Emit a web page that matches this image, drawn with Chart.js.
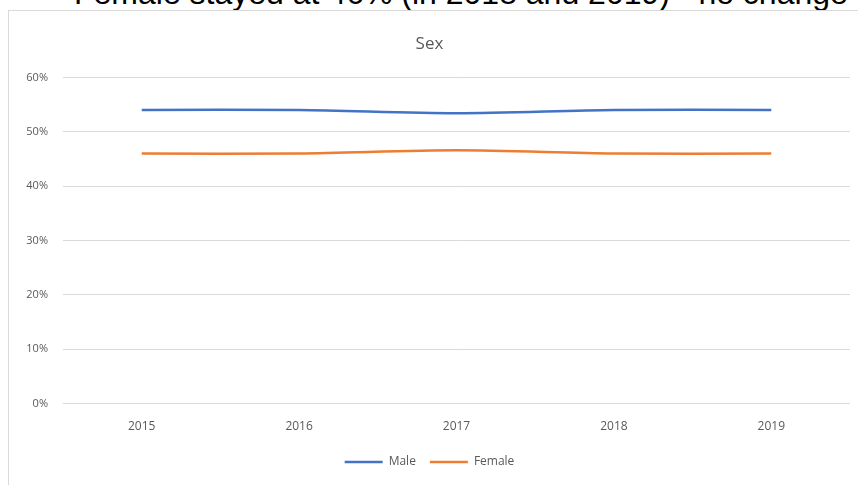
<!DOCTYPE html>
<html>
<head>
<meta charset="utf-8">
<script src="https://cdn.jsdelivr.net/npm/chart.js@4"></script>
<style>
    html, body { margin: 0; padding: 0; background: #fff; overflow: hidden; }
    body { width: 858px; height: 485px; position: relative; }
    .caption {
        position: absolute; left: 74px; top: -23px;
        font: 32px "Liberation Sans", Arial, sans-serif; line-height: 1;
        color: #000; white-space: nowrap;
    }
    .frame {
        position: absolute; left: 8px; top: 10px; width: 860px; height: 490px;
        border-left: 1px solid #d9d9d9; border-top: 1px solid #d9d9d9;
        background: #fff;
    }
    .chart_ctnr { position: absolute; left: 9px; top: 11px; width: 849px; height: 474px; }
</style>
</head>
<body>
<div class="caption">Female stayed at 46% (in 2018 and 2019) - no change</div>
<div class="frame"></div>
<div class="chart_ctnr"><canvas id="chart"></canvas></div>
<script>
const years = ['2015', '2016', '2017', '2018', '2019'];
const male = [54, 54, 53.4, 54, 54];
const female = [46, 46, 46.6, 46, 46];
const yTicks = [0, 10, 20, 30, 40, 50, 60];

const ctx = document.getElementById('chart');

var chart = new Chart(ctx, {
    type: 'line',
    data: {
        labels: years,
        datasets: [{
            label: 'Male',
            data: male,
            borderColor: '#4472C4',
            backgroundColor: '#4472C4',
            borderWidth: 2.5,
            pointRadius: 0,
            tension: 0.3
        }, {
            label: 'Female',
            data: female,
            borderColor: '#ED7D31',
            backgroundColor: '#ED7D31',
            borderWidth: 2.5,
            pointRadius: 0,
            tension: 0.3
        }]
    },
    options: {
        responsive: true,
        maintainAspectRatio: false,
        animation: false,
        layout: {
            padding: { left: 0, right: 8, top: 0, bottom: 7 }
        },
        plugins: {
            tooltip: { enabled: false },
            title: {
                display: true,
                text: 'Sex',
                color: '#595959',
                font: { size: 17, family: 'Open Sans, sans-serif', weight: 'normal' },
                padding: { top: 23, bottom: 23 }
            },
            legend: {
                display: true,
                position: 'bottom',
                labels: {
                    usePointStyle: true,
                    pointStyle: 'line',
                    pointStyleWidth: 38,
                    color: '#595959',
                    font: { size: 12, family: 'Open Sans, sans-serif' },
                    padding: 14
                }
            }
        },
        scales: {
            x: {
                // a bit shorter box so the legend sits where it does in the picture
                afterFit: function (scale) { scale.height = 38.4; },
                grid: { display: false, drawTicks: false },
                border: { display: false },
                offset: true,
                ticks: {
                    color: '#595959',
                    font: { size: 12, family: 'Open Sans, sans-serif' },
                    padding: 16,
                    maxRotation: 0
                }
            },
            y: {
                min: 0,
                max: 60,
                afterFit: function (scale) { scale.width = 54; },
                afterBuildTicks: function (scale) {
                    scale.ticks = yTicks.map(v => ({ value: v }));
                },
                grid: { color: '#d9d9d9', lineWidth: 1, drawTicks: false },
                border: { display: false },
                ticks: {
                    color: '#595959',
                    font: { size: 11, family: 'Open Sans, sans-serif' },
                    padding: 15,
                    callback: v => v + '%'
                }
            }
        }
    }
});
</script>
</body>
</html>
